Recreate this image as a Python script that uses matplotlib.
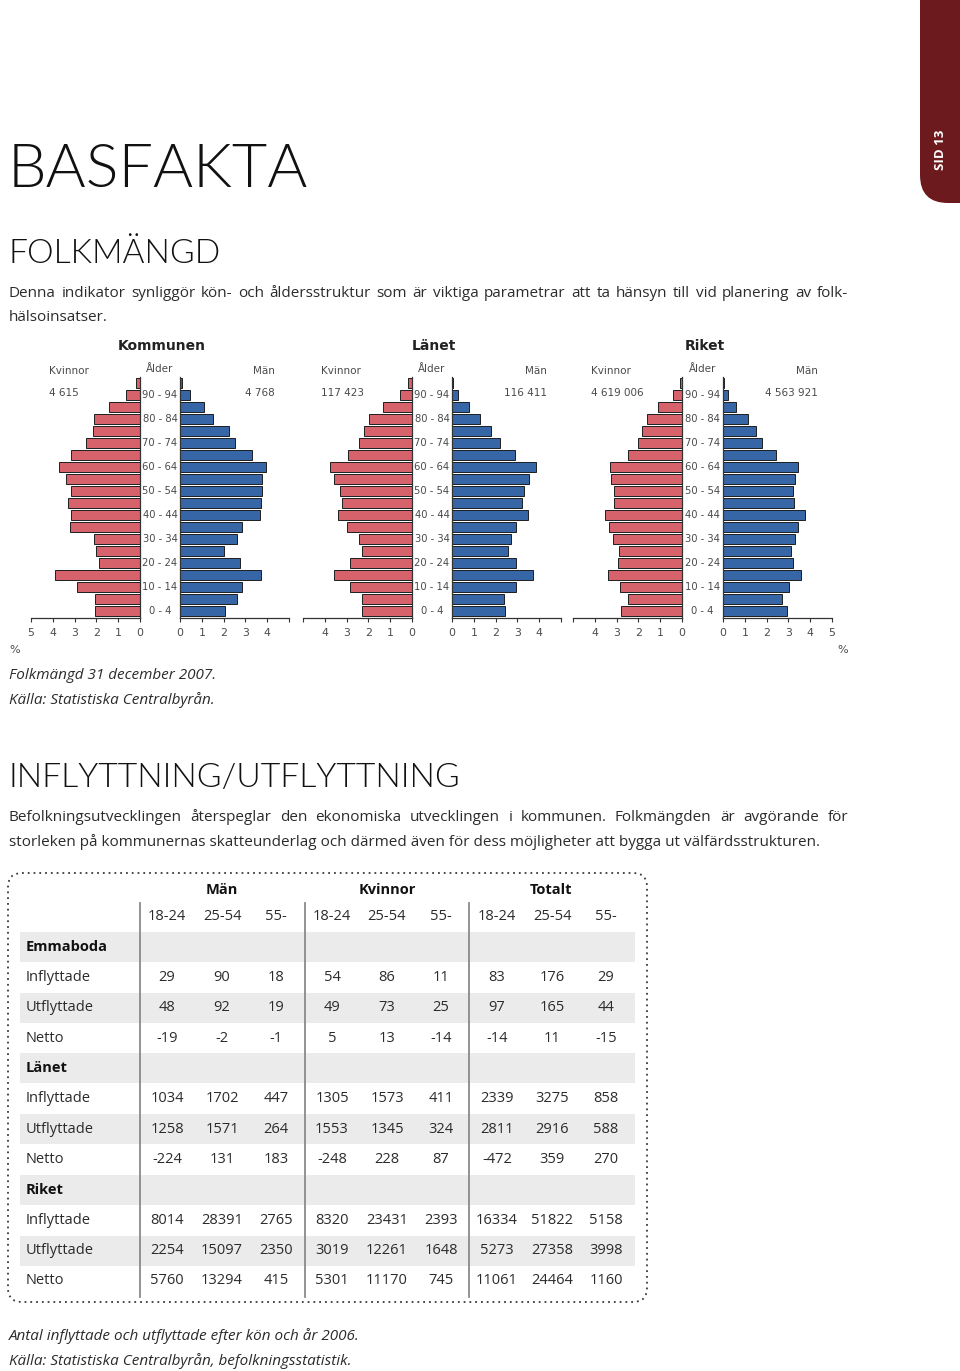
import matplotlib
matplotlib.use("Agg")
import matplotlib.pyplot as plt
from matplotlib.patches import Rectangle, FancyBboxPatch
from matplotlib.transforms import blended_transform_factory

# ─────────────────────────────────────────────────────────────
# Data
# ─────────────────────────────────────────────────────────────
AGE_GROUPS = ["0-4", "5-9", "10-14", "15-19", "20-24", "25-29", "30-34",
              "35-39", "40-44", "45-49", "50-54", "55-59", "60-64", "65-69",
              "70-74", "75-79", "80-84", "85-89", "90-94", "95-"]
AGE_TICKS = [0, 2, 4, 6, 8, 10, 12, 14, 16, 18]
AGE_TICK_LABELS = ["0 - 4", "10 - 14", "20 - 24", "30 - 34", "40 - 44",
                   "50 - 54", "60 - 64", "70 - 74", "80 - 84", "90 - 94"]

# share of population (%) per age group, from 0-4 upwards
KOMMUNEN_KVINNOR = [2.08, 2.08, 2.9, 3.9, 1.9, 2.0, 2.1, 3.2, 3.15, 3.3,
                    3.15, 3.4, 3.7, 3.15, 2.5, 2.15, 2.1, 1.4, 0.65, 0.2]
KOMMUNEN_MAN = [2.08, 2.6, 2.85, 3.7, 2.75, 2.0, 2.6, 2.85, 3.65, 3.7,
                3.75, 3.75, 3.95, 3.3, 2.5, 2.25, 1.5, 1.08, 0.45, 0.08]
LANET_KVINNOR = [2.3, 2.3, 2.85, 3.6, 2.85, 2.3, 2.45, 3.0, 3.4, 3.2,
                 3.3, 3.6, 3.75, 2.95, 2.45, 2.2, 1.95, 1.35, 0.55, 0.2]
LANET_MAN = [2.45, 2.4, 2.95, 3.7, 2.95, 2.55, 2.7, 2.95, 3.5, 3.2,
             3.3, 3.55, 3.85, 2.9, 2.2, 1.8, 1.3, 0.8, 0.27, 0.05]
RIKET_KVINNOR = [2.8, 2.5, 2.85, 3.4, 2.95, 2.9, 3.15, 3.35, 3.55, 3.1,
                 3.1, 3.25, 3.3, 2.5, 2.0, 1.85, 1.6, 1.1, 0.4, 0.08]
RIKET_MAN = [2.95, 2.7, 3.05, 3.6, 3.2, 3.1, 3.3, 3.45, 3.75, 3.25,
             3.2, 3.3, 3.45, 2.45, 1.8, 1.5, 1.15, 0.6, 0.22, 0.05]

PYRAMID_TITLES = ["Kommunen", "Länet", "Riket"]
TOTAL_KVINNOR = ["4 615", "117 423", "4 619 006"]
TOTAL_MAN = ["4 768", "116 411", "4 563 921"]
KV_TICK_LABELS = [["0", "1", "2", "3", "4", "5"],
                  ["0", "1", "2", "3", "4", ""],
                  ["0", "1", "2", "3", "4", ""]]
MAN_TICK_LABELS = [["0", "1", "2", "3", "4", ""],
                   ["0", "1", "2", "3", "4", ""],
                   ["0", "1", "2", "3", "4", "5"]]

# migration table
GROUPS = ["Män", "Kvinnor", "Totalt"]
AGE_COLS = ["18-24", "25-54", "55-"]
ROW_NAMES = ["Inflyttade", "Utflyttade", "Netto"]
AREAS = ["Emmaboda", "Länet", "Riket"]
EMMABODA_IN = [29, 90, 18, 54, 86, 11, 83, 176, 29]
EMMABODA_UT = [48, 92, 19, 49, 73, 25, 97, 165, 44]
EMMABODA_NETTO = [-19, -2, -1, 5, 13, -14, -14, 11, -15]
LANET_IN = [1034, 1702, 447, 1305, 1573, 411, 2339, 3275, 858]
LANET_UT = [1258, 1571, 264, 1553, 1345, 324, 2811, 2916, 588]
LANET_NETTO = [-224, 131, 183, -248, 228, 87, -472, 359, 270]
RIKET_IN = [8014, 28391, 2765, 8320, 23431, 2393, 16334, 51822, 5158]
RIKET_UT = [2254, 15097, 2350, 3019, 12261, 1648, 5273, 27358, 3998]
RIKET_NETTO = [5760, 13294, 415, 5301, 11170, 745, 11061, 24464, 1160]

# ─────────────────────────────────────────────────────────────
# Page setup (page axes works in pixels, y downwards)
# ─────────────────────────────────────────────────────────────
W, H = 960, 1371
RED = "#d6636b"
BLUE = "#3766a6"
TXT = "#2b2b2b"
BODY = ["Open Sans", "DejaVu Sans"]
HEAD = ["Lato", "Open Sans", "DejaVu Sans"]
BODY_FS = 11

fig = plt.figure(figsize=(W / 100, H / 100), dpi=100)
fig.patch.set_facecolor("white")
page = fig.add_axes([0, 0, 1, 1])
page.set_xlim(0, W)
page.set_ylim(H, 0)
page.axis("off")


def px_axes(x0, y0, x1, y1):
    ax = fig.add_axes([x0 / W, 1 - y1 / H, (x1 - x0) / W, (y1 - y0) / H])
    ax.patch.set_alpha(0)
    return ax


renderer = fig.canvas.get_renderer()


def justify(x0, x1, y, line, **kw):
    """Spread words of one line between x0 and x1."""
    words = line.split()
    texts = [page.text(0, y, w, **kw) for w in words]
    widths = [t.get_window_extent(renderer).width for t in texts]
    gap = (x1 - x0 - sum(widths)) / (len(words) - 1)
    x = x0
    for t, w in zip(texts, widths):
        t.set_x(x)
        x += w + gap


# side tab
page.add_patch(FancyBboxPatch((920, -60), 100, 263,
                              boxstyle="round,pad=0,rounding_size=28",
                              facecolor="#6c1a1d", edgecolor="none"))
page.text(941, 150, "SID 13", rotation=90, ha="center", va="center",
          color="white", fontsize=9.5, fontweight="bold", family=BODY)

# headings and body text
page.text(8, 187, "BASFAKTA", fontsize=44, fontweight=300,
          family=HEAD, color="#111111", va="baseline")
page.text(9, 263, "FOLKMÄNGD", fontsize=24.2, fontweight=300,
          family=HEAD, color="#111111", va="baseline")
justify(9, 848, 297, "Denna indikator synliggör kön- och åldersstruktur som är "
        "viktiga parametrar att ta hänsyn till vid planering av folk-",
        fontsize=BODY_FS, family=BODY, color=TXT, va="baseline")
page.text(9, 321, "hälsoinsatser.", fontsize=BODY_FS, family=BODY, color=TXT,
          va="baseline")

page.text(9, 679, "Folkmängd 31 december 2007.", fontsize=BODY_FS,
          style="italic", family=BODY, color=TXT, va="baseline")
page.text(9, 704, "Källa: Statistiska Centralbyrån.", fontsize=BODY_FS,
          style="italic", family=BODY, color=TXT, va="baseline")

page.text(9, 787, "INFLYTTNING/UTFLYTTNING", fontsize=24.3, fontweight=300,
          family=HEAD, color="#111111", va="baseline")
justify(9, 848, 821, "Befolkningsutvecklingen återspeglar den ekonomiska "
        "utvecklingen i kommunen. Folkmängden är avgörande för",
        fontsize=BODY_FS, family=BODY, color=TXT, va="baseline")
page.text(9, 846, "storleken på kommunernas skatteunderlag och därmed även för "
          "dess möjligheter att bygga ut välfärdsstrukturen.",
          fontsize=BODY_FS, family=BODY, color=TXT, va="baseline")

# ─────────────────────────────────────────────────────────────
# Population pyramids
# ─────────────────────────────────────────────────────────────
SCALE = 21.8           # pixels per percent
PY_TOP, PY_BOT = 377.4, 618
ZERO_KV = [140, 412, 682]
ZERO_MAN = [180, 452, 723]
pyramid_data = [(KOMMUNEN_KVINNOR, KOMMUNEN_MAN),
                (LANET_KVINNOR, LANET_MAN),
                (RIKET_KVINNOR, RIKET_MAN)]
ypos = list(range(len(AGE_GROUPS)))
GRAY = "#4a4a4a"

for i, (kv, man) in enumerate(pyramid_data):
    zw, zm = ZERO_KV[i], ZERO_MAN[i]
    ax_w = px_axes(zw - 5 * SCALE, PY_TOP, zw, PY_BOT)
    ax_m = px_axes(zm, PY_TOP, zm + 5 * SCALE, PY_BOT)

    ax_w.barh(ypos, kv, height=0.86, color=RED, edgecolor="#1e1e1e", lw=0.7)
    ax_m.barh(ypos, man, height=0.86, color=BLUE, edgecolor="#1e1e1e", lw=0.7)

    ax_w.set_xlim(5, 0)
    ax_m.set_xlim(0, 5)
    for ax, keep, labels in ((ax_w, "right", KV_TICK_LABELS[i]),
                             (ax_m, "left", MAN_TICK_LABELS[i])):
        ax.set_ylim(-0.6, 19.45)
        for side in ("top", "left", "right"):
            ax.spines[side].set_visible(side == keep)
        for side in ("bottom", keep):
            ax.spines[side].set_color("#333333")
            ax.spines[side].set_linewidth(0.9)
        ax.set_yticks([])
        ax.set_xticks(range(6))
        ax.set_xticklabels(labels)
        ax.tick_params(axis="x", length=3, width=0.8, pad=4, labelsize=7.8,
                       labelcolor=GRAY, color="#333333")

    # age labels in the gap between the halves
    tr = blended_transform_factory(page.transData, ax_w.transData)
    gap_c = (zw + zm) / 2
    for yt, lab in zip(AGE_TICKS, AGE_TICK_LABELS):
        ax_w.text(gap_c, yt, lab, transform=tr, ha="center", va="center",
                  fontsize=7.2, color=GRAY, family="DejaVu Sans")

    page.text(gap_c + 2, 346, PYRAMID_TITLES[i], ha="center", va="center",
              fontsize=10, fontweight="bold", color="#222222",
              family="DejaVu Sans")
    page.text(gap_c, 369, "Ålder", ha="center", va="center", fontsize=7.5,
              color=GRAY, family="DejaVu Sans")
    page.text(zw - 91, 371, "Kvinnor", ha="left", va="center", fontsize=7.5,
              color=GRAY, family="DejaVu Sans")
    page.text(zw - 91, 393, TOTAL_KVINNOR[i], ha="left", va="center",
              fontsize=7.5, color=GRAY, family="DejaVu Sans")
    page.text(zm + 95, 371, "Män", ha="right", va="center", fontsize=7.5,
              color=GRAY, family="DejaVu Sans")
    page.text(zm + 95, 393, TOTAL_MAN[i], ha="right", va="center",
              fontsize=7.5, color=GRAY, family="DejaVu Sans")

page.text(15, 650, "%", ha="center", va="center", fontsize=8, color=GRAY)
page.text(843, 650, "%", ha="center", va="center", fontsize=8, color=GRAY)

# ─────────────────────────────────────────────────────────────
# Migration table
# ─────────────────────────────────────────────────────────────
page.add_patch(FancyBboxPatch((8, 873), 639, 429,
                              boxstyle="round,pad=0,rounding_size=14",
                              facecolor="none", edgecolor="#3a3a3a",
                              lw=1.3, linestyle=(0, (1, 2.2))))

COL_X = [167, 222, 276, 332, 387, 441, 497, 552, 606]
GROUP_X = [222, 387, 551]
ROW_Y0, ROW_DY = 947, 30.35

rows = []
for area, vals in zip(AREAS, [(EMMABODA_IN, EMMABODA_UT, EMMABODA_NETTO),
                              (LANET_IN, LANET_UT, LANET_NETTO),
                              (RIKET_IN, RIKET_UT, RIKET_NETTO)]):
    rows.append((area, None))
    for name, v in zip(ROW_NAMES, vals):
        rows.append((name, v))

for r, (name, vals) in enumerate(rows):
    y = ROW_Y0 + r * ROW_DY
    if r % 2 == 0:
        page.add_patch(Rectangle((20, y - 15), 615, 30, facecolor="#ebebec",
                                 edgecolor="none", zorder=0))
    page.text(26, y, name, ha="left", va="center", fontsize=10.5,
              family=BODY, color=TXT if vals else "#111111",
              fontweight="normal" if vals else "bold")
    if vals:
        for x, v in zip(COL_X, vals):
            page.text(x, y, str(v), ha="center", va="center", fontsize=10.5,
                      family=BODY, color=TXT)

for x in (140, 305, 469):
    page.plot([x, x], [903, 1297], color="#8a8a8a", lw=1.3, zorder=1)

for gx, g in zip(GROUP_X, GROUPS):
    page.text(gx, 890, g, ha="center", va="center", fontsize=10.5,
              fontweight="bold", family=BODY, color="#111111")
for j, x in enumerate(COL_X):
    page.text(x, 917, AGE_COLS[j % 3], ha="center", va="center",
              fontsize=10.5, family=BODY, color=TXT)

page.text(9, 1340, "Antal inflyttade och utflyttade efter kön och år 2006.",
          fontsize=BODY_FS, style="italic", family=BODY, color=TXT,
          va="baseline")
page.text(9, 1365, "Källa: Statistiska Centralbyrån, befolkningsstatistik.",
          fontsize=BODY_FS, style="italic", family=BODY, color=TXT,
          va="baseline")

fig.savefig("out.png", dpi=100, facecolor="white")
